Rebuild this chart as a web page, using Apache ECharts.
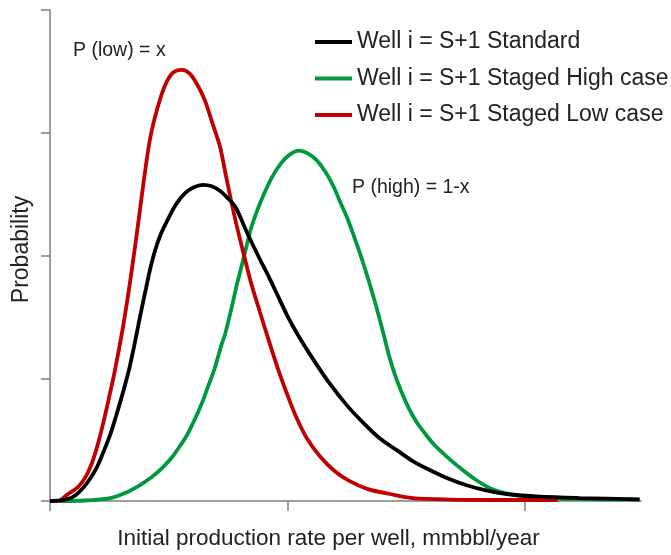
<!DOCTYPE html>
<html>
<head>
<meta charset="utf-8">
<script src="https://cdn.jsdelivr.net/npm/echarts@6/dist/echarts.min.js"></script>
<style>
  html, body { margin: 0; padding: 0; background: #fff; }
  #chart { width: 671px; height: 555px; }
</style>
</head>
<body>
<div id="chart"></div>
<script>
// Probability density curves of initial production rate per well
const seriesNames = [
  'Well i = S+1 Standard',
  'Well i = S+1 Staged High case',
  'Well i = S+1 Staged Low case'
];

// [rate, probability] sample points
const standardCurve = [
  [0, 0], [0.042, 0.004], [0.076, 0.016], [0.109, 0.049], [0.139, 0.105],
  [0.168, 0.179], [0.198, 0.276], [0.223, 0.389], [0.253, 0.536], [0.278, 0.69],
  [0.299, 0.828], [0.32, 0.974], [0.337, 1.103], [0.354, 1.258], [0.371, 1.42],
  [0.387, 1.574], [0.404, 1.728], [0.421, 1.882], [0.442, 2.037], [0.467, 2.175],
  [0.497, 2.296], [0.531, 2.418], [0.568, 2.507], [0.606, 2.556], [0.644, 2.576],
  [0.682, 2.564], [0.716, 2.527], [0.749, 2.467], [0.779, 2.402], [0.804, 2.304],
  [0.829, 2.191], [0.859, 2.069], [0.888, 1.955], [0.918, 1.842], [0.956, 1.688],
  [0.998, 1.517], [1.044, 1.355], [1.107, 1.16], [1.175, 0.966], [1.251, 0.779],
  [1.318, 0.641], [1.389, 0.511], [1.461, 0.414], [1.528, 0.325], [1.6, 0.252],
  [1.672, 0.187], [1.752, 0.13], [1.832, 0.089], [1.924, 0.057], [2.063, 0.035],
  [2.232, 0.024], [2.484, 0.014]
];

const highCaseCurve = [
  [0.042, 0], [0.147, 0.004], [0.253, 0.024], [0.316, 0.065], [0.379, 0.13],
  [0.429, 0.195], [0.472, 0.268], [0.514, 0.357], [0.547, 0.446], [0.577, 0.536],
  [0.602, 0.633], [0.627, 0.738], [0.648, 0.836], [0.669, 0.949], [0.691, 1.063],
  [0.707, 1.168], [0.724, 1.282], [0.737, 1.355], [0.754, 1.485], [0.771, 1.623],
  [0.787, 1.761], [0.804, 1.89], [0.825, 2.053], [0.846, 2.215], [0.872, 2.361],
  [0.901, 2.499], [0.935, 2.637], [0.973, 2.751], [1.011, 2.824], [1.05, 2.855],
  [1.086, 2.832], [1.124, 2.775], [1.162, 2.677], [1.196, 2.556], [1.225, 2.426],
  [1.251, 2.312], [1.276, 2.182], [1.301, 2.045], [1.322, 1.923], [1.343, 1.793],
  [1.364, 1.655], [1.385, 1.509], [1.406, 1.355], [1.427, 1.193], [1.453, 1.03],
  [1.482, 0.884], [1.512, 0.755], [1.545, 0.641], [1.579, 0.552], [1.613, 0.471],
  [1.651, 0.398], [1.693, 0.325], [1.739, 0.252], [1.789, 0.179], [1.853, 0.105],
  [1.916, 0.065], [1.979, 0.041], [2.063, 0.024], [2.232, 0.016], [2.484, 0.011]
];

const lowCaseCurve = [
  [0.042, 0], [0.076, 0.057], [0.118, 0.114], [0.152, 0.203], [0.181, 0.333],
  [0.206, 0.495], [0.227, 0.657], [0.248, 0.836], [0.269, 1.022], [0.291, 1.241],
  [0.312, 1.469], [0.333, 1.728], [0.354, 2.012], [0.375, 2.312], [0.396, 2.621],
  [0.421, 2.945], [0.451, 3.189], [0.484, 3.383], [0.518, 3.489], [0.555, 3.513],
  [0.589, 3.481], [0.623, 3.383], [0.653, 3.262], [0.682, 3.091], [0.716, 2.888],
  [0.741, 2.653], [0.762, 2.458], [0.787, 2.239], [0.817, 2.004], [0.846, 1.785],
  [0.884, 1.542], [0.922, 1.306], [0.96, 1.079], [0.998, 0.876], [1.036, 0.69],
  [1.082, 0.511], [1.137, 0.365], [1.2, 0.243], [1.263, 0.162], [1.339, 0.097],
  [1.432, 0.057], [1.528, 0.024], [1.684, 0.012], [1.895, 0.008], [2.139, 0.008]
];

// x-axis tick positions
const xTicks = [0, 1, 2];

const curveColors = ['#000000', '#009a3e', '#c00000'];
const curves = [standardCurve, highCaseCurve, lowCaseCurve];

const FONT = 'Liberation Sans, Arial, sans-serif';
const TEXT_COLOR = '#222';
const AXIS_COLOR = '#7f7f7f';

const chart = echarts.init(document.getElementById('chart'), null, { renderer: 'canvas' });

chart.setOption({
  animation: false,
  backgroundColor: '#fff',
  grid: { left: 50, right: 30, top: 10, bottom: 52, containLabel: false },
  legend: {
    orient: 'vertical',
    left: 315,
    top: 29,
    padding: 0,
    icon: 'rect',
    itemWidth: 37,
    itemHeight: 4,
    itemGap: 10.5,
    textStyle: { fontFamily: FONT, fontSize: 23, color: TEXT_COLOR, lineHeight: 26 },
    data: seriesNames
  },
  xAxis: {
    type: 'value',
    min: 0,
    max: 2.49,
    interval: 1,
    name: 'Initial production rate per well, mmbbl/year',
    nameLocation: 'middle',
    nameGap: 26,
    nameTextStyle: { fontFamily: FONT, fontSize: 22.5, color: TEXT_COLOR, padding: [0, 34, 0, 0] },
    axisLine: { lineStyle: { color: AXIS_COLOR, width: 1.5 } },
    axisTick: {
      show: true, inside: false, length: 10, customValues: xTicks,
      lineStyle: { color: AXIS_COLOR, width: 1.5 }
    },
    axisLabel: { show: false },
    splitLine: { show: false }
  },
  yAxis: {
    type: 'value',
    min: 0,
    max: 4,
    interval: 1,
    name: 'Probability',
    nameLocation: 'middle',
    nameGap: 17,
    nameTextStyle: { fontFamily: FONT, fontSize: 23, color: TEXT_COLOR, padding: [0, 0, 0, 12] },
    axisLine: { show: true, lineStyle: { color: AXIS_COLOR, width: 1.5 } },
    axisTick: { show: true, inside: false, length: 9, lineStyle: { color: AXIS_COLOR, width: 1.5 } },
    axisLabel: { show: false },
    splitLine: { show: false }
  },
  graphic: [
    {
      type: 'text', left: 73, top: 41,
      style: { text: 'P (low) = x', fontFamily: FONT, fontSize: 19.5, fill: TEXT_COLOR }
    },
    {
      type: 'text', left: 352, top: 178,
      style: { text: 'P (high) = 1-x', fontFamily: FONT, fontSize: 19.5, fill: TEXT_COLOR }
    }
  ],
  series: seriesNames.map((name, i) => ({
    name,
    type: 'line',
    data: curves[i],
    smooth: 0.3,
    showSymbol: false,
    symbol: 'none',
    color: curveColors[i],
    lineStyle: { width: 3.8, color: curveColors[i] },
    z: i === 0 ? 4 : 3
  }))
});
</script>
</body>
</html>
